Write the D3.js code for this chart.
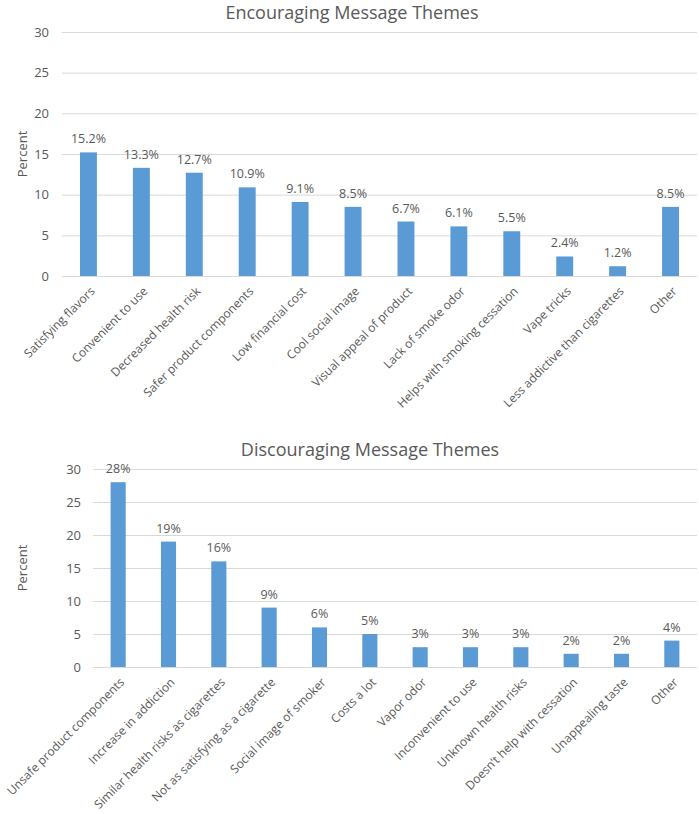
<!DOCTYPE html>
<html>
<head>
<meta charset="utf-8">
<script src="https://cdn.jsdelivr.net/npm/d3@7"></script>
<style>
  html, body { margin: 0; padding: 0; background: #fff; }
  text { font-family: "Open Sans", "Noto Sans", sans-serif; }
</style>
</head>
<body>
<svg id="chart" width="699" height="814"></svg>
<script>
// ---- Data ----
const encTitle = "Encouraging Message Themes";
const encCategories = ["Satisfying flavors", "Convenient to use", "Decreased health risk", "Safer product components", "Low financial cost", "Cool social image", "Visual appeal of product", "Lack of smoke odor", "Helps with smoking cessation", "Vape tricks", "Less addictive than cigarettes", "Other"];
const encValues = [15.2, 13.3, 12.7, 10.9, 9.1, 8.5, 6.7, 6.1, 5.5, 2.4, 1.2, 8.5];

const disTitle = "Discouraging Message Themes";
const disCategories = ["Unsafe product components", "Increase in addiction", "Similar health risks as cigarettes", "Not as satisfying as a cigarette", "Social image of smoker", "Costs a lot", "Vapor odor", "Inconvenient to use", "Unknown health risks", "Doesn\u2019t help with cessation", "Unappealing taste", "Other"];
const disValues = [28, 19, 16, 9, 6, 5, 3, 3, 3, 2, 2, 4];

const yTicks = [0, 5, 10, 15, 20, 25, 30];
const yLabel = "Percent";

// ---- Drawing ----
const svg = d3.select("#chart");
svg.append("rect").attr("width", 699).attr("height", 814).attr("fill", "#fff");

const BAR = "#5B9BD5", GRID = "#D9D9D9", TXT = "#595959";

function drawChart(cfg, categories, values, title) {
  const g = svg.append("g");
  const x = d3.scaleBand().domain(categories).range([cfg.x0, cfg.x1]).paddingInner(cfg.pad).paddingOuter(cfg.pad / 2);
  const y = d3.scaleLinear().domain([0, 30]).range([cfg.yBottom, cfg.yTop]);

  // title
  g.append("text").attr("x", cfg.titleX).attr("y", cfg.titleY)
    .attr("text-anchor", "middle").attr("font-size", 18).attr("fill", TXT)
    .text(title);

  // gridlines
  g.append("g").selectAll("line").data(yTicks).join("line")
    .attr("x1", cfg.x0).attr("x2", cfg.x1)
    .attr("y1", d => y(d) + 0.5).attr("y2", d => y(d) + 0.5)
    .attr("stroke", GRID).attr("stroke-width", 1);

  // y axis labels
  const yAxis = d3.axisLeft(y).tickValues(yTicks).tickSize(0).tickPadding(0);
  const ya = g.append("g").attr("transform", `translate(${cfg.yLabelRight},0)`).call(yAxis);
  ya.select(".domain").remove();
  ya.selectAll("text").attr("font-size", 13).attr("fill", TXT)
    .attr("font-family", '"Open Sans", sans-serif');

  // y title
  g.append("text")
    .attr("transform", `translate(${cfg.yTitleX},${(cfg.yTop + cfg.yBottom) / 2}) rotate(-90)`)
    .attr("text-anchor", "middle").attr("font-size", 13).attr("fill", TXT)
    .text(yLabel);

  // bars
  g.append("g").selectAll("rect").data(values).join("rect")
    .attr("x", (d, i) => x(categories[i]))
    .attr("width", x.bandwidth())
    .attr("y", d => y(d))
    .attr("height", d => y(0) - y(d))
    .attr("fill", BAR);

  // value labels
  g.append("g").selectAll("text").data(values).join("text")
    .attr("x", (d, i) => x(categories[i]) + x.bandwidth() / 2)
    .attr("y", d => y(d) - 9)
    .attr("text-anchor", "middle").attr("font-size", 12.5).attr("fill", TXT)
    .text(d => d + "%");

  // x labels
  const xa = d3.axisBottom(x).tickSize(0).tickPadding(0);
  const xg = g.append("g").attr("transform", `translate(0,${cfg.yBottom})`).call(xa);
  xg.select(".domain").remove();
  xg.selectAll("text")
    .attr("font-size", 12).attr("fill", TXT).attr("font-family", '"Open Sans", sans-serif')
    .attr("text-anchor", "end")
    .attr("dy", "0.35em").attr("y", 0)
    .attr("transform", "translate(4,13) rotate(-45)");
}

drawChart({ x0: 62, x1: 697, yTop: 32, yBottom: 276, pad: 0.68, titleX: 352, titleY: 19, yLabelRight: 49, yTitleX: 27 },
  encCategories, encValues, encTitle);

drawChart({ x0: 93, x1: 697, yTop: 469, yBottom: 667, pad: 0.70, titleX: 370, titleY: 456, yLabelRight: 81, yTitleX: 27 },
  disCategories, disValues, disTitle);
</script>
</body>
</html>
